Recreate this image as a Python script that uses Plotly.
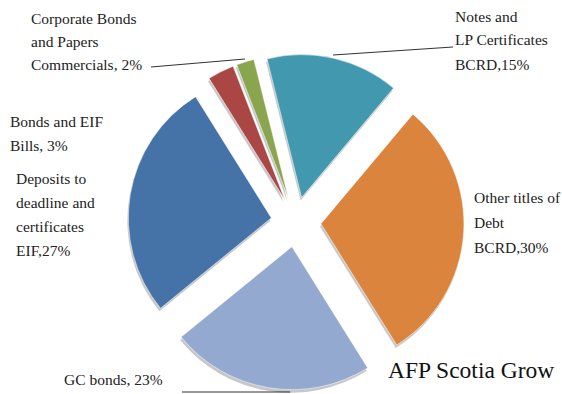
import plotly.graph_objects as go

# ---- data ----
categories = [
    "Notes and LP Certificates BCRD",
    "Other titles of Debt BCRD",
    "GC bonds",
    "Deposits to deadline and certificates EIF",
    "Bonds and EIF Bills",
    "Corporate Bonds and Papers Commercials",
]
values = [15, 30, 23, 27, 3, 2]
colors = ["#4198AF", "#DB843D", "#93A9CF", "#4572A7", "#AA4643", "#89A54E"]
label_lines = [
    ["Notes and", "LP Certificates", "BCRD,15%"],
    ["Other titles of", "Debt", "BCRD,30%"],
    ["GC bonds, 23%"],
    ["Deposits to", "deadline and", "certificates", "EIF,27%"],
    ["Bonds and EIF", "Bills, 3%"],
    ["Corporate Bonds", "and Papers", "Commercials, 2%"],
]
title_text = "AFP Scotia Grow"

W, H = 562, 394
PULL = 0.175


def px(x):
    return x / W


def py(y):
    return 1 - y / H


cx, cy, R = 296, 222, 168


def dom(dx=0, dy=0):
    return dict(x=[px(cx - R + dx), px(cx + R + dx)],
                y=[py(cy + R + dy), py(cy - R + dy)])


fig = go.Figure()
# shadow
fig.add_trace(go.Pie(
    labels=categories, values=values, sort=False, direction="clockwise",
    rotation=-14, pull=[PULL] * len(values), textinfo="none", hoverinfo="skip",
    marker=dict(colors=["rgba(0,0,0,0.22)"] * len(values), line=dict(width=0)),
    domain=dom(-1, 3), showlegend=False,
))
fig.add_trace(go.Pie(
    labels=categories, values=values, sort=False, direction="clockwise",
    rotation=-14, pull=[PULL] * len(values), textinfo="none",
    marker=dict(colors=colors, line=dict(color="rgba(255,255,255,0.5)", width=1)),
    domain=dom(), showlegend=False,
))

font = dict(family="Liberation Serif, Times New Roman, serif", size=15.5, color="#222222")

# label anchor positions (px): x left, y of first line center, line spacing
label_pos = [
    (453, 16, 24),
    (472, 198, 24.5),
    (62, 379, 24),
    (14, 178, 24),
    (8, 122, 23),
    (29, 18, 23),
]
for lines_, (x, y, dy) in zip(label_lines, label_pos):
    for i, t in enumerate(lines_):
        fig.add_annotation(x=px(x), y=py(y + i * dy), xref="paper", yref="paper",
                           xanchor="left", yanchor="middle", text=t, showarrow=False,
                           align="left", font=font)

fig.add_annotation(x=px(386), y=py(370), xref="paper", yref="paper",
                   xanchor="left", yanchor="middle", text=title_text,
                   showarrow=False, font=dict(family="Liberation Serif, serif", size=23.5, color="#111111"))

lines = [((151, 67), (245, 59)), ((333, 55), (453, 47)), ((182, 392), (290, 392))]
for (x0, y0), (x1, y1) in lines:
    fig.add_shape(type="line", xref="paper", yref="paper",
                  x0=px(x0), y0=py(y0), x1=px(x1), y1=py(y1),
                  line=dict(color="#333333", width=1.2), layer="below")

fig.update_layout(width=W, height=H, margin=dict(l=0, r=0, t=0, b=0),
                  paper_bgcolor="white", plot_bgcolor="white")
fig.write_html("out.html")
